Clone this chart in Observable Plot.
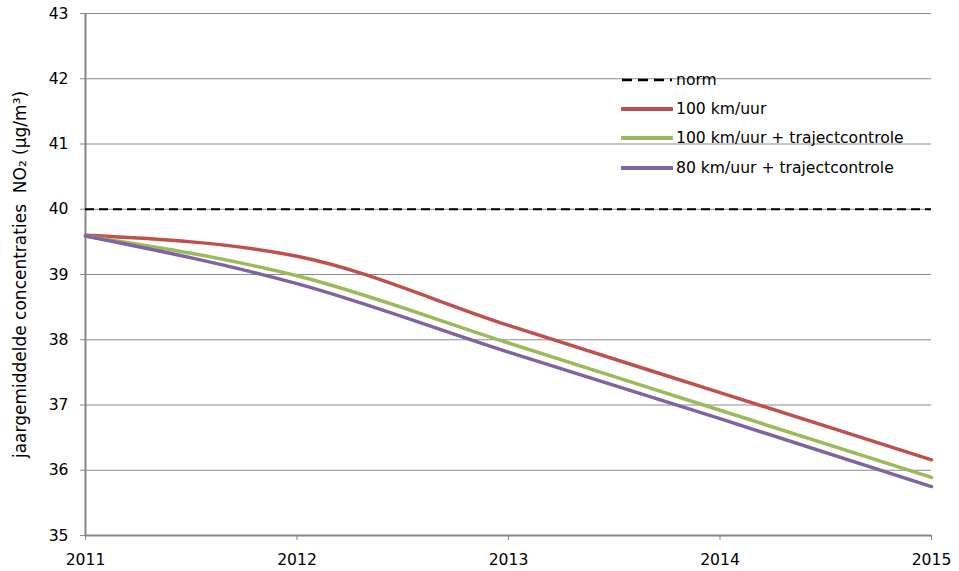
<!DOCTYPE html>
<html>
<head>
<meta charset="utf-8">
<script src="https://cdn.jsdelivr.net/npm/d3@7"></script>
<script src="https://cdn.jsdelivr.net/npm/@observablehq/plot@0.6"></script>
<style>
  body { margin: 0; background: #fff; font-family: "DejaVu Sans", Verdana, sans-serif; }
  #wrap { position: relative; width: 959px; height: 571px; }
  #legend { position: absolute; left: 621px; top: 65px; font-size: 15.6px; color: #000; }
  .row { display: flex; align-items: center; height: 29.3px; }
  .row svg { margin-right: 3px; }
  #wrap > svg text { font-size: 15.6px !important; }
  #wrap > svg g[aria-label="y-axis label"] text { font-size: 17px !important; }
</style>
</head>
<body>
<div id="wrap"></div>
<script>
const years = [2011, 2012, 2013, 2014, 2015];
const yTicks = [35, 36, 37, 38, 39, 40, 41, 42, 43];
const normValue = 40;
const seriesNames = ["100 km/uur", "100 km/uur + trajectcontrole", "80 km/uur + trajectcontrole"];
const seriesColors = ["#c0504d", "#9bbb59", "#8064a2"];
const red = [39.60, 39.28, 38.22, 37.19, 36.16];
const green = [39.59, 38.98, 37.95, 36.92, 35.89];
const purple = [39.59, 38.86, 37.81, 36.79, 35.75];

const values = [red, green, purple];
const data = [];
values.forEach((vals, i) => vals.forEach((v, j) => data.push({series: seriesNames[i], year: years[j], value: v})));

const chart = Plot.plot({
  width: 959,
  height: 571,
  marginLeft: 85,
  marginRight: 28,
  marginTop: 13,
  marginBottom: 36,
  style: {fontFamily: "'DejaVu Sans', Verdana, sans-serif", fontSize: "15.6px", color: "#000", background: "#fff"},
  x: {domain: [2011, 2015]},
  y: {domain: [35, 43]},
  color: {domain: seriesNames, range: seriesColors},
  marks: [
    Plot.gridY(yTicks, {stroke: "#8c8c8c", strokeOpacity: 1, strokeWidth: 1}),
    Plot.axisY({ticks: yTicks, tickSize: 5, tickPadding: 12, stroke: "#868686",
      label: "jaargemiddelde concentraties  NO\u2082 (\u00b5g/m\u00b3)", labelAnchor: "center", labelArrow: "none", labelOffset: 72}),
    Plot.axisX({ticks: years, tickSize: 5, tickPadding: 13, tickFormat: d => String(d), stroke: "#868686", label: null}),
    Plot.ruleX([2011], {stroke: "#868686", strokeWidth: 2}),
    Plot.ruleY([35], {stroke: "#868686", strokeWidth: 2}),
    Plot.ruleY([normValue], {stroke: "#000", strokeWidth: 2, strokeDasharray: "9,5"}),
    Plot.line(data, {x: "year", y: "value", z: "series", stroke: "series", strokeWidth: 3.5, curve: "monotone-x"})
  ]
});
const wrap = document.getElementById("wrap");
wrap.appendChild(chart);

const legend = document.createElement("div");
legend.id = "legend";
const items = [{name: "norm", color: "#000", dash: true}].concat(seriesNames.map((n, i) => ({name: n, color: seriesColors[i]})));
items.forEach(it => {
  const row = document.createElement("div");
  row.className = "row";
  const svg = d3.create("svg").attr("width", 52).attr("height", 8);
  svg.append("line").attr("x1", 1).attr("x2", 51).attr("y1", 4).attr("y2", 4)
    .attr("stroke", it.color).attr("stroke-width", it.dash ? 2.5 : 4)
    .attr("stroke-dasharray", it.dash ? "10,6" : null)
    .attr("stroke-linecap", it.dash ? "butt" : "round");
  row.appendChild(svg.node());
  const t = document.createElement("span");
  t.textContent = it.name;
  row.appendChild(t);
  legend.appendChild(row);
});
wrap.appendChild(legend);
</script>
</body>
</html>
